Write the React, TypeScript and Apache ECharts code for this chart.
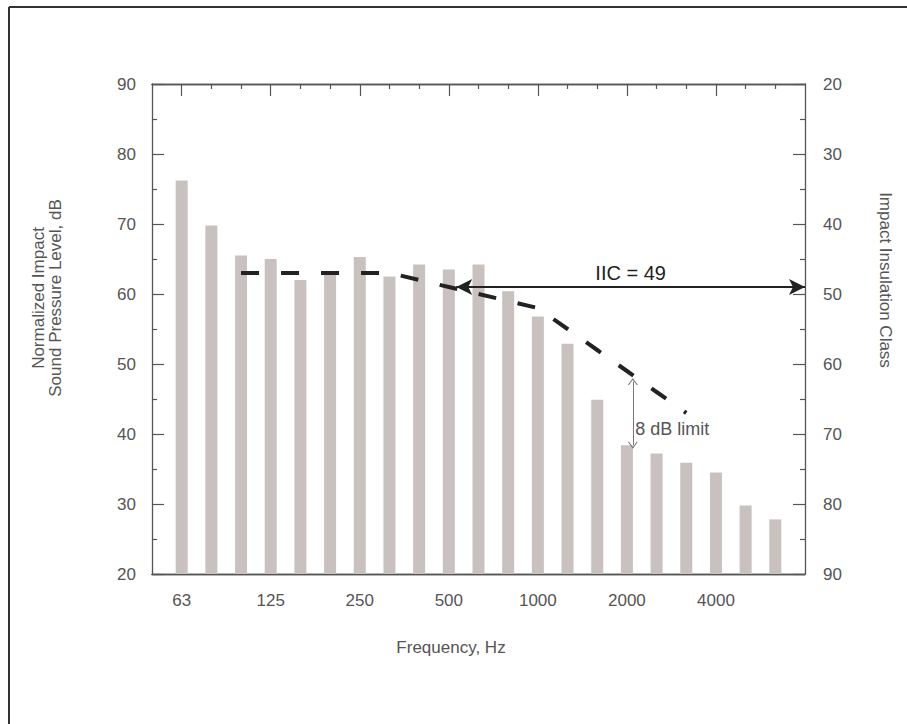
import React, { useEffect, useRef } from 'react';
import * as echarts from 'echarts';

// One-third octave band centre frequencies, Hz
const freqs = ['63', '80', '100', '125', '160', '200', '250', '315', '400', '500', '630', '800', '1000', '1250', '1600', '2000', '2500', '3150', '4000', '5000', '6300'];
// Normalized impact sound pressure level, dB
const levels = [76.2, 69.8, 65.5, 65.0, 62.0, 63.3, 65.3, 62.5, 64.2, 63.5, 64.2, 60.4, 56.8, 52.9, 44.9, 38.4, 37.2, 35.9, 34.5, 29.8, 27.8];
// Fitted IIC reference contour
const contourFreqs = ['100', '125', '160', '200', '250', '315', '400', '500', '630', '800', '1000', '1250', '1600', '2000', '2500', '3150'];
const contourLevels = [63, 63, 63, 63, 63, 63, 62, 61, 60, 59, 58, 55, 52, 49, 46, 43];
// Labelled frequencies on the x axis
const labeledFreqs = ['63', '125', '250', '500', '1000', '2000', '4000'];
// Impact Insulation Class result
const iic = 49;
const iicFreq = '500';
// 8 dB limit annotation (frequency, from level, to level)
const limitFreq = '2000';
const limitFrom = 38.4;
const limitTo = 47.5;

const categories = ['', ...freqs, ''];
const TXT = '#555555';
const AX = '#555555';
const FONT = 'Liberation Sans, Arial, sans-serif';

const isLabeled = (v: string) => labeledFreqs.includes(v);
const isShort = (v: string) => v !== '' && !labeledFreqs.includes(v);

function catAxis(position: 'top' | 'bottom', long: boolean, withLabels: boolean) {
  return {
    type: 'category',
    gridIndex: 0,
    position,
    data: categories,
    boundaryGap: false,
    axisLine: { show: true, onZero: false, lineStyle: { color: AX, width: 1.3 } },
    axisTick: {
      show: true,
      inside: true,
      length: long ? 12 : 5,
      interval: (_i: number, v: string) => (long ? isLabeled(v) : isShort(v)),
      lineStyle: { color: AX, width: 1.2 },
    },
    axisLabel: withLabels
      ? {
          show: true,
          interval: (_i: number, v: string) => isLabeled(v),
          fontSize: 17,
          color: TXT,
          fontFamily: FONT,
          margin: 18,
        }
      : { show: false },
    splitLine: { show: false },
  };
}

function valAxis(position: 'left' | 'right', inverse: boolean) {
  return {
    type: 'value',
    position,
    min: 20,
    max: 90,
    interval: 10,
    inverse,
    axisLine: { show: true, onZero: false, lineStyle: { color: AX, width: 1.3 } },
    axisTick: { show: true, inside: true, length: 12, lineStyle: { color: AX, width: 1.2 } },
    minorTick: { show: true, splitNumber: 2, length: 5, lineStyle: { color: AX, width: 1.2 } },
    axisLabel: { fontSize: 17, color: TXT, fontFamily: FONT, margin: position === 'left' ? 16 : 18 },
    splitLine: { show: false },
  };
}

const chevron = 'path://M0,10 L5,0 L10,10 L8.8,10 L5,2.4 L1.2,10 Z';

export default function App() {
  const ref = useRef<HTMLDivElement>(null);
  useEffect(() => {
    if (!ref.current) return;
    const chart = echarts.init(ref.current, undefined, { renderer: 'svg' });
    const idx = (f: string) => freqs.indexOf(f);
    chart.setOption({
      animation: false,
      backgroundColor: '#ffffff',
      textStyle: { fontFamily: FONT },
      grid: { left: 152, right: 102, top: 84, bottom: 150, containLabel: false },
      xAxis: [
        catAxis('bottom', true, true),
        catAxis('bottom', false, false),
        catAxis('top', true, false),
        catAxis('top', false, false),
        { type: 'value', min: -1, max: freqs.length, show: false, gridIndex: 0, axisLine: { onZero: false } },
      ],
      yAxis: [valAxis('left', false), valAxis('right', true)],
      graphic: [
        { type: 'line', shape: { x1: 9, y1: 7, x2: 907, y2: 7 }, style: { stroke: '#333', lineWidth: 2 } },
        { type: 'line', shape: { x1: 9, y1: 7, x2: 9, y2: 724 }, style: { stroke: '#333', lineWidth: 2 } },
        {
          type: 'text',
          x: 47,
          y: 298,
          rotation: Math.PI / 2,
          style: {
            text: 'Normalized Impact\nSound Pressure Level, dB',
            align: 'center',
            verticalAlign: 'middle',
            fontSize: 17,
            lineHeight: 17,
            fill: TXT,
            fontFamily: FONT,
          },
        },
        {
          type: 'text',
          x: 885,
          y: 280,
          rotation: -Math.PI / 2,
          style: {
            text: 'Impact Insulation Class',
            align: 'center',
            verticalAlign: 'middle',
            fontSize: 17,
            fill: TXT,
            fontFamily: FONT,
          },
        },
        {
          type: 'text',
          x: 451,
          y: 647,
          style: {
            text: 'Frequency, Hz',
            align: 'center',
            verticalAlign: 'middle',
            fontSize: 17,
            fill: TXT,
            fontFamily: FONT,
          },
        },
      ],
      series: [
        {
          type: 'bar',
          xAxisIndex: 0,
          yAxisIndex: 0,
          data: ['-', ...levels, '-'],
          barWidth: 12,
          itemStyle: { color: '#c9c1be' },
          silent: true,
        },
        {
          type: 'line',
          xAxisIndex: 4,
          yAxisIndex: 0,
          data: contourFreqs.map((f, i) => [idx(f), contourLevels[i]]),
          symbol: 'none',
          lineStyle: { color: '#222', width: 4, type: [18, 22], cap: 'butt' },
          silent: true,
          z: 3,
        },
        {
          type: 'line',
          xAxisIndex: 4,
          yAxisIndex: 1,
          data: [],
          silent: true,
          markLine: {
            silent: true,
            symbol: ['arrow', 'arrow'],
            symbolSize: [12, 16],
            lineStyle: { color: '#222', width: 2, type: 'solid' },
            label: {
              show: true,
              position: 'insideMiddleTop',
              formatter: `IIC = ${iic}`,
              fontSize: 20,
              color: '#222',
              fontFamily: FONT,
              distance: 4,
            },
            emphasis: { disabled: true },
            data: [[{ coord: [idx(iicFreq) + 0.25, iic] }, { coord: [freqs.length, iic] }]],
          },
          z: 4,
        },
        {
          type: 'line',
          xAxisIndex: 4,
          yAxisIndex: 0,
          data: [],
          silent: true,
          markLine: {
            silent: true,
            symbol: [chevron, chevron],
            symbolSize: [10, 7],
            lineStyle: { color: '#777', width: 1, type: 'solid' },
            label: { show: false },
            emphasis: { disabled: true },
            data: [[{ coord: [idx(limitFreq) + 0.2, limitFrom] }, { coord: [idx(limitFreq) + 0.2, limitTo] }]],
          },
          markPoint: {
            silent: true,
            symbol: 'circle',
            symbolSize: 1,
            itemStyle: { color: 'rgba(0,0,0,0)' },
            label: {
              show: true,
              position: 'right',
              distance: 2,
              formatter: '8 dB limit',
              fontSize: 18,
              color: TXT,
              fontFamily: FONT,
            },
            data: [{ coord: [idx(limitFreq) + 0.2, (limitFrom + limitTo) / 2 - 2.2] }],
          },
          z: 4,
        },
      ],
    });
    return () => chart.dispose();
  }, []);
  return <div ref={ref} style={{ position: 'absolute', left: 0, top: 0, width: 907, height: 724 }} />;
}
